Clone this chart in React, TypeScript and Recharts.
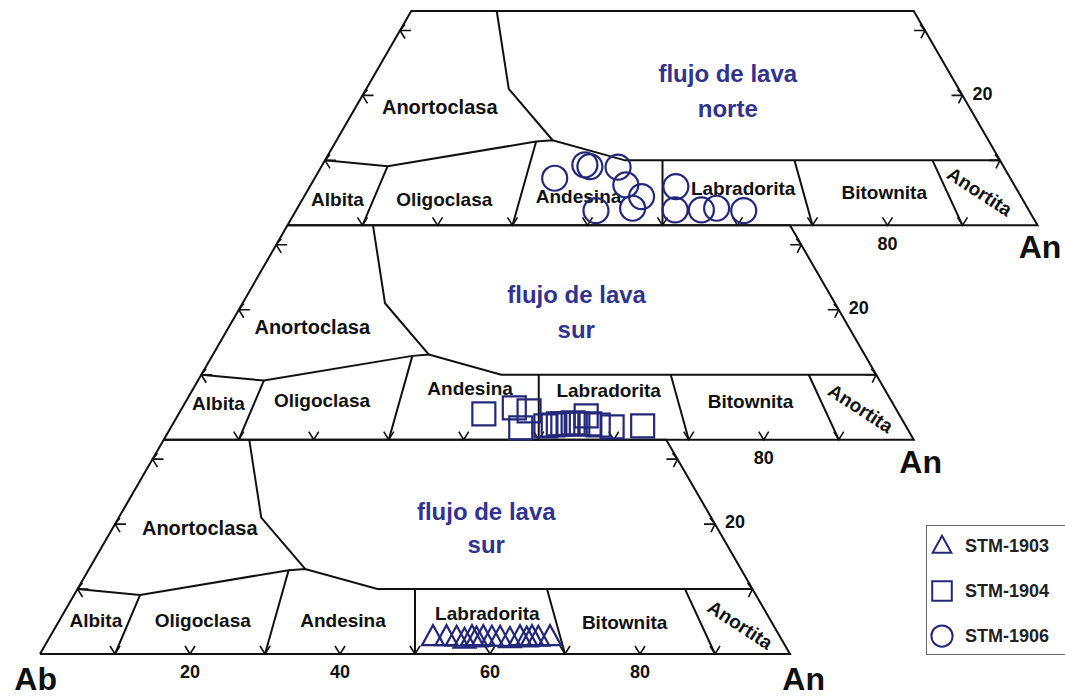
import React from 'react';
import { ScatterChart, Scatter, XAxis, YAxis, Legend } from 'recharts';

// ternary: An (right), Or (apex, truncated), Ab = rest. Three stacked diagrams, 0 = bottom.
const OR_TOP = 33;
const SQ = Math.sqrt(3) / 2;

// field boundaries, [An, Or] pairs
const OUTLINE = [[0, 0], [100, 0], [67, 33], [0, 33], [0, 0]];
const FELDSPAR_LIMIT = [[0, 10], [8.8, 9.1], [26.7, 12.9], [28.8, 13.1], [40, 10], [90, 10]];
const ANORTHOCLASE_LIMIT = [[28.8, 13.1], [19, 21], [11.4, 33]];
const FIELD_DIVIDERS = [
  [[10, 0], [8.8, 9.1]],
  [[30, 0], [26.7, 12.9]],
  [[50, 0], [45, 10]],
  [[70, 0], [62.6, 10]],
  [[90, 0], [81, 10]],
];

const BASE_TICKS = [10, 20, 30, 40, 50, 60, 70, 80, 90];
const SIDE_TICKS = [10, 20, 30];
const BASE_TICK_LABELS = [[20, 40, 60, 80], [80], [80]];
const SIDE_TICK_LABELS = [[20], [20], [20]];

const LABELS_BOTTOM = [
  { text: 'Anortoclasa', an: 11.6, or: 19.4 },
  { text: 'Albita', an: 4.85, or: 5.2 },
  { text: 'Oligoclasa', an: 19.1, or: 5.2 },
  { text: 'Andesina', an: 37.8, or: 5.2 },
  { text: 'Labradorita', an: 56.5, or: 6.3 },
  { text: 'Bitownita', an: 75.5, or: 4.9 },
  { text: 'Anortita', an: 91.1, or: 4.5 },
];
const LABELS_MIDDLE = [
  { text: 'Anortoclasa', an: 11.1, or: 17.4 },
  { text: 'Albita', an: 4.5, or: 5.6 },
  { text: 'Oligoclasa', an: 18.1, or: 6.0 },
  { text: 'Andesina', an: 36.9, or: 7.9 },
  { text: 'Labradorita', an: 55.5, or: 7.65 },
  { text: 'Bitownita', an: 75.25, or: 5.96 },
  { text: 'Anortita', an: 90.5, or: 4.83 },
];
const LABELS_TOP = [
  { text: 'Anortoclasa', an: 11.2, or: 18.2 },
  { text: 'Albita', an: 4.66, or: 4.0 },
  { text: 'Oligoclasa', an: 18.9, or: 4.0 },
  { text: 'Andesina', an: 36.6, or: 4.42 },
  { text: 'Labradorita', an: 57.9, or: 5.71 },
  { text: 'Bitownita', an: 77.05, or: 5.03 },
  { text: 'Anortita', an: 89.7, or: 5.19 },
];
const FIELD_LABELS = [LABELS_BOTTOM, LABELS_MIDDLE, LABELS_TOP];

const TITLES = [
  [{ text: 'flujo de lava', an: 48.5, or: 22.0 }, { text: 'sur', an: 51.1, or: 16.8 }],
  [{ text: 'flujo de lava', an: 43.9, or: 22.3 }, { text: 'sur', an: 46.55, or: 16.9 }],
  [{ text: 'flujo de lava', an: 47.0, or: 23.4 }, { text: 'norte', an: 49.7, or: 18.0 }],
];

const CORNER_LABELS = [
  [{ text: 'Ab', an: 1.3, or: -3.75 }, { text: 'An', an: 103.7, or: -3.75 }],
  [{ text: 'An', an: 102.6, or: -3.36 }],
  [{ text: 'An', an: 102.0, or: -3.33 }],
];

// analyses, [An, Or]
const STM_1903 = [
  { an: 51.1, or: 2.6 }, { an: 52.9, or: 2.6 }, { an: 54.3, or: 2.5 }, { an: 55.5, or: 2.2 },
  { an: 56.3, or: 2.6 }, { an: 57.0, or: 2.4 }, { an: 57.8, or: 2.6 }, { an: 59.0, or: 2.5 },
  { an: 60.1, or: 2.5 }, { an: 61.5, or: 2.3 }, { an: 62.7, or: 2.6 }, { an: 63.7, or: 2.4 },
  { an: 64.3, or: 2.6 }, { an: 65.2, or: 2.5 }, { an: 66.7, or: 2.6 },
];
const STM_1904 = [
  { an: 40.7, or: 3.96 }, { an: 44.3, or: 4.88 }, { an: 46.5, or: 4.42 }, { an: 46.7, or: 1.8 },
  { an: 49.9, or: 2.11 }, { an: 50.8, or: 2.26 }, { an: 51.4, or: 2.42 }, { an: 52.0, or: 2.42 },
  { an: 52.7, or: 2.42 }, { an: 53.3, or: 2.57 }, { an: 54.0, or: 2.42 }, { an: 54.5, or: 3.65 },
  { an: 55.6, or: 2.42 }, { an: 56.8, or: 2.26 }, { an: 58.8, or: 1.96 }, { an: 62.8, or: 2.11 },
];
const STM_1906 = [
  { an: 32.0, or: 7.25 }, { an: 35.0, or: 9.3 }, { an: 35.8, or: 9.04 }, { an: 39.6, or: 8.95 },
  { an: 42.0, or: 6.22 }, { an: 45.0, or: 4.42 }, { an: 40.0, or: 2.26 }, { an: 44.7, or: 2.63 },
  { an: 48.8, or: 5.96 }, { an: 50.5, or: 2.37 }, { an: 54.0, or: 2.37 }, { an: 55.9, or: 2.63 },
  { an: 59.7, or: 2.26 },
];

const SERIES = [
  { name: 'STM-1903', diagram: 0, points: STM_1903, marker: 'triangle' },
  { name: 'STM-1904', diagram: 1, points: STM_1904, marker: 'square' },
  { name: 'STM-1906', diagram: 2, points: STM_1906, marker: 'circle' },
];

const INK = '#111';
const NAVY = '#24287a';
const TITLE_BLUE = '#31338f';
const FONT = '"Liberation Sans", Arial, Helvetica, sans-serif';

// 7.5 px per ternary unit, Ab corner of the bottom diagram at page (40, 654)
const X_DOMAIN = [-40 / 7.5, (1065 - 40) / 7.5];
const Y_DOMAIN = [(654 - 698) / 7.5, 654 / 7.5];

const toXY = (k: number, an: number, or: number) => ({
  x: (k * OR_TOP) / 2 + an + or / 2,
  y: (k * OR_TOP + or) * SQ,
});

const DIAGRAMS = [0, 1, 2];

const lineSeries = DIAGRAMS.flatMap((k) =>
  [OUTLINE, FELDSPAR_LIMIT, ANORTHOCLASE_LIMIT, ...FIELD_DIVIDERS].map((poly, i) => ({
    id: `l-${k}-${i}`,
    data: poly.map(([an, or]) => toXY(k, an, or)),
  }))
);

const tickData = DIAGRAMS.flatMap((k) => [
  ...BASE_TICKS.map((t) => ({ ...toXY(k, t, 0), kind: 'base' })),
  ...SIDE_TICKS.map((t) => ({ ...toXY(k, 100 - t, t), kind: 'right' })),
  ...SIDE_TICKS.map((t) => ({ ...toXY(k, 0, t), kind: 'left' })),
]);

const labelData = DIAGRAMS.flatMap((k) => [
  ...FIELD_LABELS[k].map((l) => ({ ...toXY(k, l.an, l.or), text: l.text, role: l.text === 'Anortoclasa' ? 'big' : 'field' })),
  ...TITLES[k].map((l) => ({ ...toXY(k, l.an, l.or), text: l.text, role: 'title' })),
  ...CORNER_LABELS[k].map((l) => ({ ...toXY(k, l.an, l.or), text: l.text, role: 'corner' })),
  ...BASE_TICK_LABELS[k].map((t) => ({ ...toXY(k, t, 0), text: String(t), role: 'baseTick' })),
  ...SIDE_TICK_LABELS[k].map((t) => ({ ...toXY(k, 100 - t, t), text: String(t), role: 'sideTick' })),
]);

const Nothing = () => <g />;

const TickMark = (props: any) => {
  const { cx, cy, payload } = props;
  let d = '';
  if (payload.kind === 'base') d = `M${cx - 5},${cy - 8}L${cx},${cy}L${cx + 5},${cy - 8}`;
  else if (payload.kind === 'right') d = `M${cx - 11},${cy}L${cx},${cy}M${cx - 5},${cy - 6}L${cx},${cy}L${cx - 4},${cy + 8}`;
  else d = `M${cx + 11},${cy}L${cx},${cy}M${cx + 5},${cy - 6}L${cx},${cy}L${cx + 5},${cy + 8}`;
  return <path d={d} stroke={INK} strokeWidth={1.6} fill="none" />;
};

const LabelText = (props: any) => {
  const { cx, cy, payload } = props;
  const { role, text } = payload;
  const base = { fontFamily: FONT, fontWeight: 700 };
  if (role === 'title')
    return <text x={cx} y={cy} dy="0.35em" textAnchor="middle" fill={TITLE_BLUE} fontSize={24} style={base}>{text}</text>;
  if (role === 'corner')
    return <text x={cx} y={cy} dy="0.35em" textAnchor="middle" fill={INK} fontSize={32} style={base}>{text}</text>;
  if (role === 'baseTick')
    return <text x={cx} y={cy + 18} dy="0.35em" textAnchor="middle" fill={INK} fontSize={18} style={base}>{text}</text>;
  if (role === 'sideTick')
    return <text x={cx + 10} y={cy - 2} dy="0.35em" textAnchor="start" fill={INK} fontSize={18} style={base}>{text}</text>;
  const rot = text === 'Anortita' ? `rotate(33 ${cx} ${cy})` : undefined;
  return (
    <text x={cx} y={cy} dy="0.35em" textAnchor="middle" fill={INK} fontSize={role === 'big' ? 20 : 19} style={base} transform={rot}>
      {text}
    </text>
  );
};

const markerPath = (marker: string, cx: number, cy: number, s = 1) => {
  if (marker === 'triangle') return `M${cx},${cy - 12 * s}L${cx + 11 * s},${cy + 8 * s}L${cx - 11 * s},${cy + 8 * s}Z`;
  if (marker === 'square') return `M${cx - 11.5 * s},${cy - 11.5 * s}h${23 * s}v${23 * s}h${-23 * s}Z`;
  const r = 12.5 * s;
  return `M${cx - r},${cy}a${r},${r} 0 1,0 ${2 * r},0a${r},${r} 0 1,0 ${-2 * r},0Z`;
};

const makeMarker = (marker: string) => (props: any) => (
  <path d={markerPath(marker, props.cx, props.cy)} fill="none" stroke={NAVY} strokeWidth={2.2} />
);

const LegendBox = (props: any) => {
  const items = (props.payload || []).filter((p: any) => p.type !== 'none');
  return (
    <div style={{ position: 'relative', width: 140, height: 130, border: '1px solid #666', boxSizing: 'border-box', background: '#fff' }}>
      {items.map((p: any, i: number) => {
        const s = SERIES.find((x) => x.name === p.value);
        const cy = 20 + 45 * i;
        return (
          <div key={p.value} style={{ position: 'absolute', left: 0, top: cy - 14, height: 28, width: 140, display: 'flex', alignItems: 'center' }}>
            <svg width={36} height={28} style={{ display: 'block' }}>
              <path d={markerPath(s ? s.marker : 'circle', 15, 14, 0.85)} fill="none" stroke={NAVY} strokeWidth={2} />
            </svg>
            <span style={{ fontFamily: FONT, fontWeight: 700, fontSize: 18, color: '#222', marginLeft: 2 }}>{p.value}</span>
          </div>
        );
      })}
    </div>
  );
};

export default function App() {
  return (
    <div style={{ position: 'absolute', left: 0, top: 0, width: 1065, height: 698, background: '#fff' }}>
      <ScatterChart width={1065} height={698} margin={{ top: 0, right: 0, bottom: 0, left: 0 }}>
        <XAxis type="number" dataKey="x" domain={X_DOMAIN} hide allowDataOverflow />
        <YAxis type="number" dataKey="y" domain={Y_DOMAIN} hide allowDataOverflow />
        {lineSeries.map((s) => (
          <Scatter
            key={s.id}
            data={s.data}
            line={{ stroke: INK, strokeWidth: 2 }}
            lineType="joint"
            shape={Nothing}
            legendType="none"
            isAnimationActive={false}
          />
        ))}
        <Scatter data={tickData} shape={TickMark} legendType="none" isAnimationActive={false} />
        <Scatter data={labelData} shape={LabelText} legendType="none" isAnimationActive={false} />
        {SERIES.map((s) => (
          <Scatter
            key={s.name}
            name={s.name}
            data={s.points.map((p) => toXY(s.diagram, p.an, p.or))}
            shape={makeMarker(s.marker)}
            legendType={s.marker as any}
            fill={NAVY}
            isAnimationActive={false}
          />
        ))}
        <Legend
          layout="vertical"
          align="center"
          verticalAlign="middle"
          content={<LegendBox />}
          wrapperStyle={{ left: 926, top: 525, width: 140, height: 130 }}
        />
      </ScatterChart>
    </div>
  );
}
